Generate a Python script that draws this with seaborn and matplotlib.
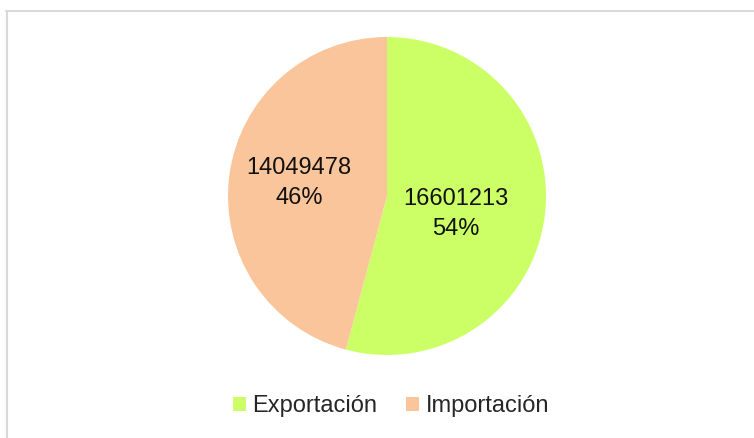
import matplotlib
matplotlib.use("Agg")
import matplotlib.pyplot as plt
import seaborn as sns
import numpy as np
from matplotlib.patches import Patch
from matplotlib.lines import Line2D

sns.set_theme(style="white")
plt.rcParams["font.family"] = ["Liberation Sans", "DejaVu Sans"]

categories = ["Exportación", "Importación"]
values = [16601213, 14049478]
colors = ["#ccff66", "#fac59a"]

W, H = 754, 438
fig = plt.figure(figsize=(W / 100, H / 100), dpi=100)
fig.patch.set_facecolor("white")

# square axes holding the pie (radius 159 px, centre at 387,196 from top-left)
cx, cy, r = 387, 196, 159
ax = fig.add_axes([(cx - r) / W, (H - cy - r) / H, 2 * r / W, 2 * r / H])

total = sum(values)

def fmt(pct):
    v = int(round(pct * total / 100.0))
    return f"{v}\n{pct:.0f}%"

wedges, texts, autotexts = ax.pie(
    values,
    colors=colors,
    startangle=90,
    counterclock=False,
    autopct=fmt,
    pctdistance=0.46,
    radius=1.0,
    wedgeprops=dict(linewidth=0),
    textprops=dict(fontsize=17, color="#111111", linespacing=1.45),
)

# label placement: radial distance and angular shift for each slice
label_dist = [0.45, 0.56]
label_shift = [-7, -1]
for w, t, d, s in zip(wedges, autotexts, label_dist, label_shift):
    ang = np.deg2rad((w.theta1 + w.theta2) / 2 + s)
    t.set_position((d * np.cos(ang), d * np.sin(ang)))
    t.set_ha("center")
    t.set_multialignment("center")

ax.set_xlim(-1, 1)
ax.set_ylim(-1, 1)
ax.set_aspect("equal")
ax.axis("off")

# chart-area frame (top and left edges)
fig.add_artist(Line2D([6 / W, 1], [1 - 10.5 / H, 1 - 10.5 / H], color="#d9d9d9", lw=1.5))
fig.add_artist(Line2D([6.5 / W, 6.5 / W], [0, 1 - 10.5 / H], color="#d9d9d9", lw=1.5))

handles = [Patch(facecolor=c, edgecolor="none") for c in colors]
fig.legend(
    handles, categories,
    loc="center", bbox_to_anchor=(391 / W, 1 - 406 / H),
    ncol=2, frameon=False, fontsize=17,
    handlelength=0.55, handleheight=0.55, handletextpad=0.3, columnspacing=1.2,
)

fig.savefig("out.png", dpi=100, facecolor="white")
